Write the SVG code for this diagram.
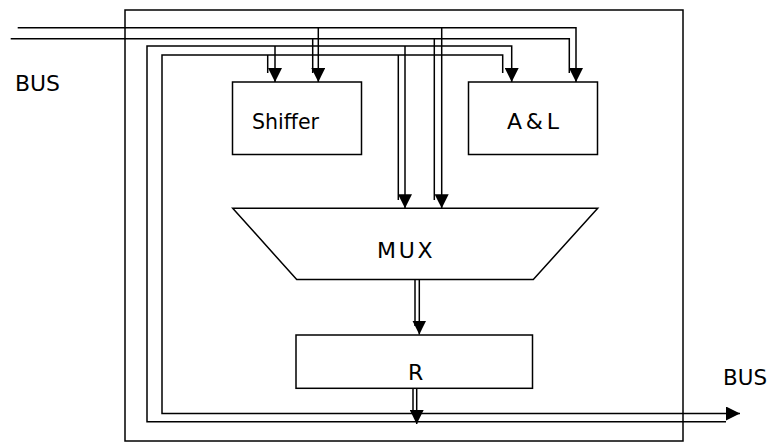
<svg xmlns="http://www.w3.org/2000/svg" width="770" height="443" viewBox="0 0 770 443">
<style>
.box{fill:#fff;stroke:#000;stroke-width:1.5}
.w{fill:none;stroke:#000;stroke-width:1.5;stroke-linejoin:miter}
.a{marker-end:url(#arr)}
.t{font-family:"DejaVu Sans","Liberation Sans",Arial,sans-serif;font-size:22px;fill:#000}
</style>
<defs>
<marker id="arr" viewBox="0 0 14 14" refX="14" refY="7" markerWidth="14" markerHeight="14" markerUnits="userSpaceOnUse" orient="auto">
<path d="M0,0 L14,7 L0,14 Z" fill="#000"/>
</marker>
</defs>
<g id="cpu"><rect x="125" y="10" width="558" height="431" fill="none" stroke="#000" stroke-width="1.5"/></g>
<g id="bus-in-label"><text class="t" x="15" y="91" textLength="45" lengthAdjust="spacingAndGlyphs">BUS</text></g>
<g id="bus-out-label"><text class="t" x="723" y="385" textLength="44" lengthAdjust="spacingAndGlyphs">BUS</text></g>
<g id="shiffer"><rect class="box" x="232.5" y="82" width="129" height="72.5"/><text class="t" x="252" y="128.5" textLength="67" lengthAdjust="spacingAndGlyphs">Shiffer</text></g>
<g id="al"><rect class="box" x="468.5" y="82" width="129" height="72.5"/><text class="t" x="507" y="128.5" textLength="52" lengthAdjust="spacing">A&amp;L</text></g>
<g id="mux"><polygon class="box" points="232.7,208.3 597.7,208.3 533.3,279.5 296.7,279.5"/><text class="t" x="377" y="258" textLength="55.5" lengthAdjust="spacing">MUX</text></g>
<g id="r"><rect class="box" x="296" y="335" width="236.5" height="53.3"/><text class="t" x="408" y="380">R</text></g>
<g id="connectors">
<polyline class="w a" points="17.7,27.7 576,27.7 576,82"/>
<polyline class="w a" points="318.3,27.7 318.3,82"/>
<polyline class="w a" points="441.7,27.7 441.7,208.3"/>
<polyline class="w" points="10.7,38.7 569.3,38.7 569.3,73"/>
<polyline class="w" points="312.7,38.7 312.7,73"/>
<polyline class="w" points="434.3,38.7 434.3,200"/>
<polyline class="w a" points="726,421.7 147,421.7 147,46 511.7,46 511.7,82"/>
<polyline class="w a" points="275,46 275,82"/>
<polyline class="w a" points="405,46 405,208.3"/>
<polyline class="w a" points="502.7,73 502.7,55 162,55 162,413.5 740,413.5"/>
<polyline class="w" points="267.7,55 267.7,73"/>
<polyline class="w" points="398.3,55 398.3,200"/>
<polyline class="w a" points="419.3,279.5 419.3,334.5"/>
<polyline class="w" points="415,279.5 415,326"/>
<polyline class="w a" points="416.7,388.3 416.7,424"/>
<polyline class="w" points="413,388.3 413,413"/>
</g>
</svg>
